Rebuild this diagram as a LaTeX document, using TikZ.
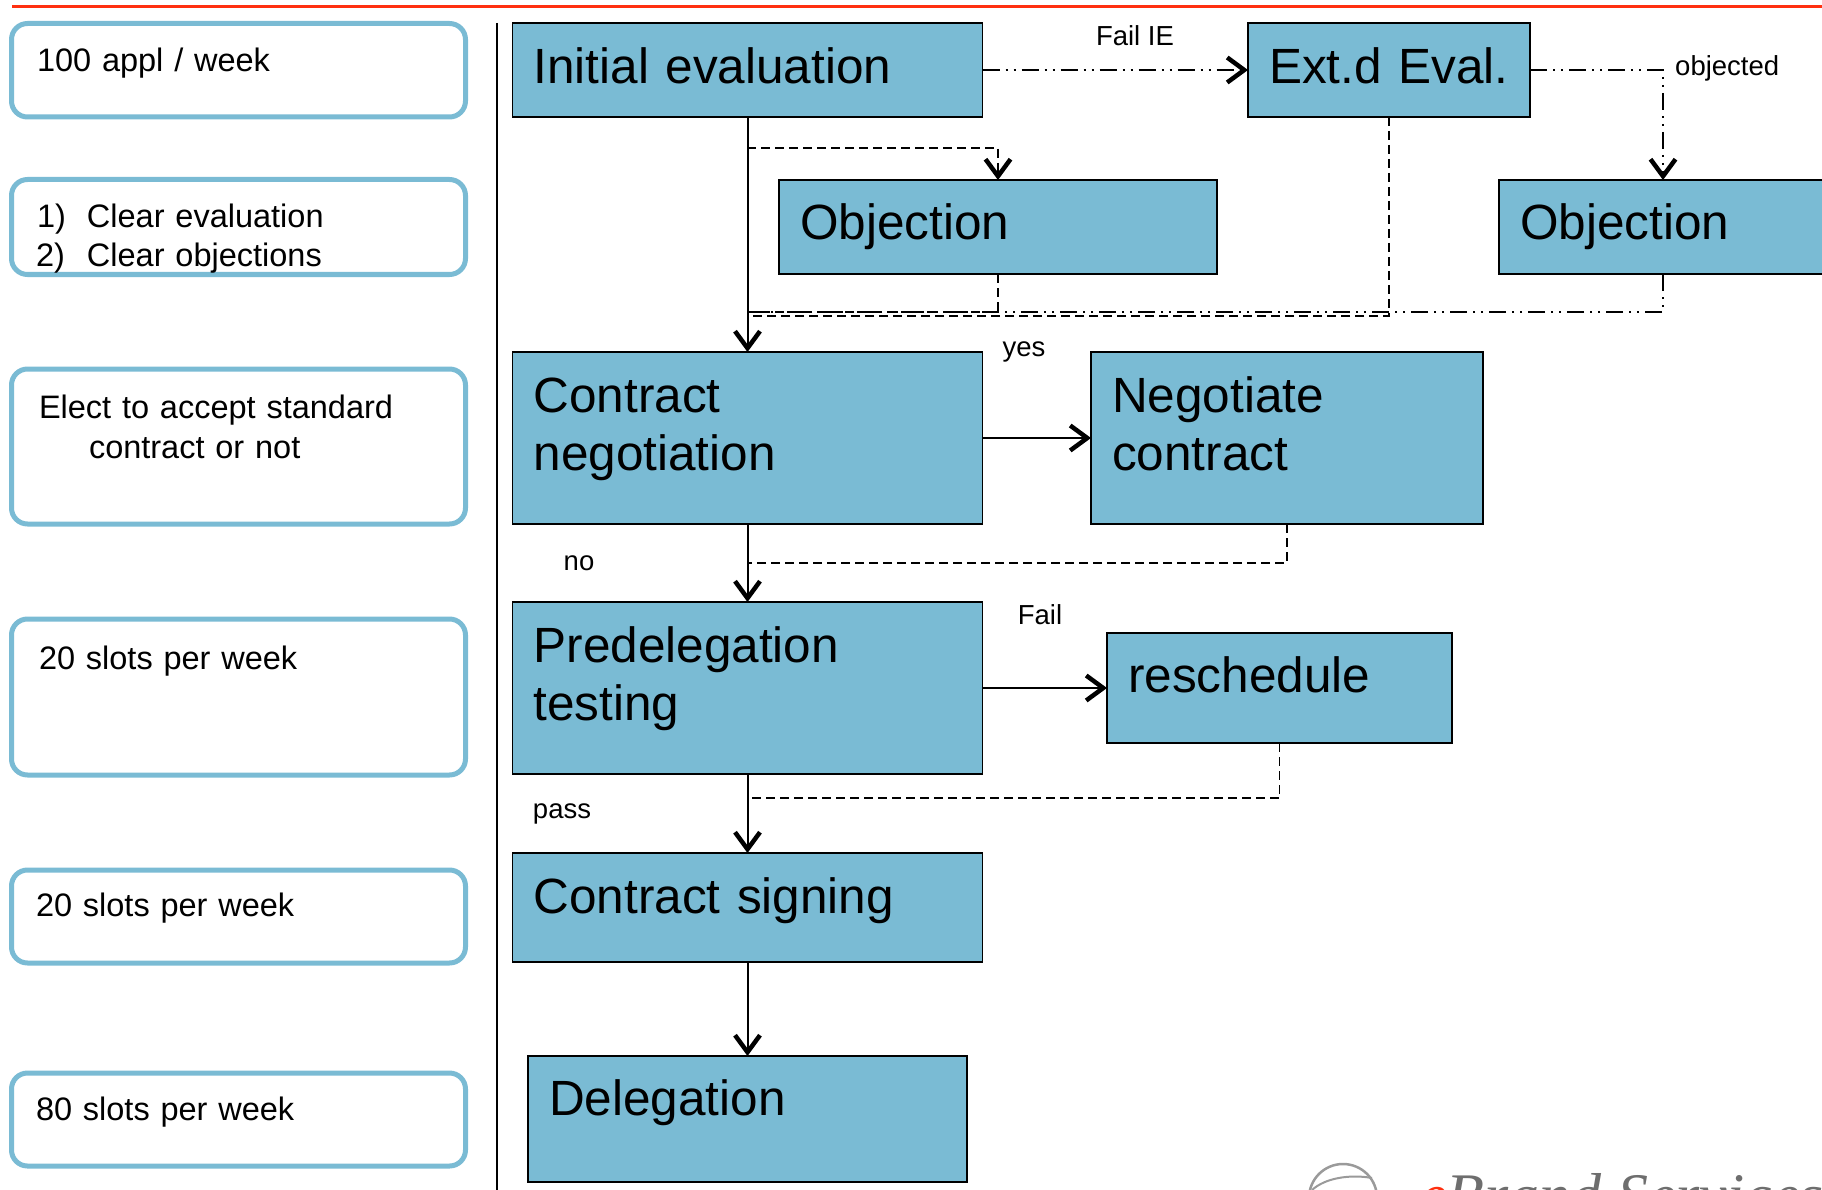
\documentclass[tikz,border=0pt]{standalone}
\usepackage{fontspec}
\setmainfont{Liberation Sans}
\newfontfamily\logofont{Liberation Serif}
\usetikzlibrary{arrows.meta}
\definecolor{boxblue}{HTML}{7ABBD4}
\definecolor{linered}{HTML}{FF3010}
\definecolor{logogray}{HTML}{6E6E6E}
\tikzset{
  x=1pt,y=-1pt,
  flowbox/.style n args={3}{draw=black,fill=boxblue,line width=1.6pt,anchor=north west,outer sep=0pt,
    inner xsep=21pt,inner ysep=0pt,text width=#1pt-42pt,align=left,
    text height=#3pt,text depth=#2pt-#3pt,
    font=\fontsize{49.5}{58}\selectfont},
  notebox/.style n args={3}{draw=boxblue,fill=white,line width=5pt,rounded corners=16pt,anchor=north west,outer sep=0pt,
    inner xsep=26.5pt,inner ysep=0pt,text width=454pt-53pt,align=left,
    text height=#2pt,text depth=#1pt-#2pt,
    font=\fontsize{32.5}{39.5}\selectfont},
  smalllabel/.style={font=\fontsize{27.5}{32}\selectfont,inner sep=0pt},
  barb/.style={-{Straight Barb[length=17pt,width=25pt,line width=4.5pt]}},
  flow/.style={line width=2pt,barb},
  dashline/.style={line width=1.7pt,dash pattern=on 9pt off 5pt},
  dashdotline/.style={line width=1.7pt,dash pattern=on 17pt off 6pt on 2pt off 6pt on 2pt off 6pt},
}
\begin{document}
\begin{tikzpicture}
\useasboundingbox (0,0) rectangle (1822,1190);
\clip (0,0) rectangle (1822,1190);
\draw[linered,line width=3pt] (12,7) -- (1822,7);
\draw[black,line width=2pt] (497,23) -- (497,1190);
% left notes
\node[notebox={93.5}{48.5}] (n1) at (11.5,23.5) {\hspace*{-1pt}100 appl / week};
\node[notebox={95}{48.5}] (n2) at (11.5,179.5) {\hspace*{-1pt}\makebox[50pt][l]{1)}Clear evaluation\\[-0.5pt]\hspace*{-2pt}\makebox[51pt][l]{2)}Clear objections};
\node[notebox={155}{49.5}] (n3) at (11.5,369) {\hspace*{1pt}Elect to accept standard\\\hspace*{51pt}contract or not};
\node[notebox={156}{50}] (n4) at (11.5,619) {\hspace*{1pt}20 slots per week};
\node[notebox={93}{46}] (n5) at (11.5,870) {\hspace*{-2pt}20 slots per week};
\node[notebox={93}{47}] (n6) at (11.5,1073) {\hspace*{-2pt}80 slots per week};
% flow boxes
\node[flowbox={470}{94}{61}] (init) at (512.5,23) {Initial evaluation};
\node[flowbox={282}{94}{61}] (ext) at (1248,23) {Ext.d Eval.};
\node[flowbox={438}{94}{60}] (obja) at (779,180) {Objection};
\node[flowbox={328}{94}{60}] (objb) at (1499,180) {Objection};
\node[flowbox={470}{172}{60}] (cneg) at (512.5,352) {Contract\\negotiation};
\node[flowbox={392}{172}{60}] (neg) at (1091,352) {Negotiate\\contract};
\node[flowbox={470}{172}{60}] (pre) at (512.5,602) {Predelegation\\testing};
\node[flowbox={345}{110}{59.5}] (res) at (1107,633) {reschedule};
\node[flowbox={470}{109}{60}] (sign) at (512.5,853) {Contract signing};
\node[flowbox={439}{126}{59.5}] (del) at (528,1056) {Delegation};
% junctions
\coordinate (ja) at (747,148);
\coordinate (jb) at (747,312);
\coordinate (jc) at (747,316);
\coordinate (jd) at (747,563);
\coordinate (je) at (747,798);
% connectors
\draw[flow] (init.south) -- (cneg.north);
\draw[flow] (cneg.south) -- (pre.north);
\draw[flow] (pre.south) -- (sign.north);
\draw[flow] (sign.south) -- (del.north);
\draw[flow] (cneg.east) -- (neg.west);
\draw[flow] (pre.east) -- (pre.east -| res.west);
\draw[dashdotline,barb] (init.east |- ext.west) -- (ext.west);
\draw[dashdotline,barb] (ext.east) -| (objb.north);
\draw[dashline,barb] (ja) -| (obja.north);
\draw[dashline] (obja.south) |- (jb);
\draw[dashline] (ext.south) |- (jc);
\draw[dashdotline] (objb.south) |- (jb);
\draw[dashline] (neg.south) |- (jd);
\draw[dashline] (res.south) |- (je);
% labels
\node[smalllabel] (lfail) at (1135,36) {Fail IE};
\node[smalllabel,anchor=west] (lobj) at (1675,68) {objected};
\node[smalllabel] (lyes) at (1024,352) {yes};
\node[smalllabel] (lno) at (579,563) {no};
\node[smalllabel] (lf) at (1040,615) {Fail};
\node[smalllabel] (lpass) at (562,814) {pass};
% logo
\draw[logogray!70,line width=2.5pt] (1343,1198) circle (34);
\draw[logogray!70,line width=2pt] (1312,1190) .. controls (1325,1178) and (1350,1174) .. (1372,1178);
\node[anchor=base west,inner sep=0pt,font=\logofont\itshape\fontsize{62}{62}\selectfont,text=logogray] (logo) at (1419,1216) {\textcolor{linered}{e}Brand Services};
\end{tikzpicture}
\end{document}
